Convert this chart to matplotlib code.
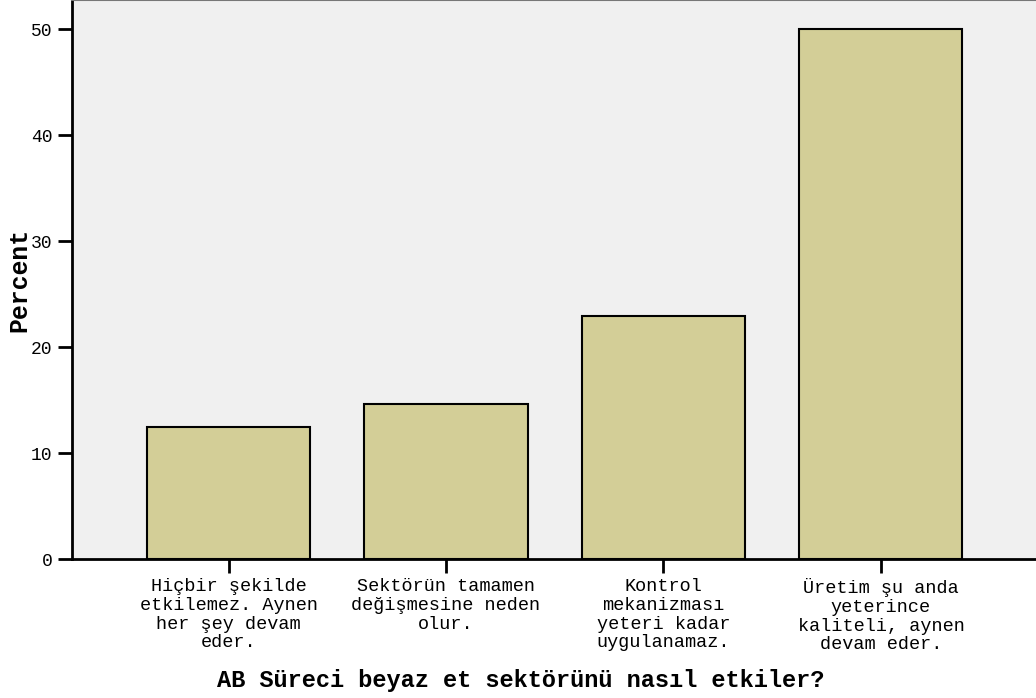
import matplotlib
matplotlib.use("Agg")
import matplotlib.pyplot as plt

categories = [
    "Hiçbir şekilde\netkilemez. Aynen\nher şey devam\neder.",
    "Sektörün tamamen\ndeğişmesine neden\nolur.",
    "Kontrol\nmekanizması\nyeteri kadar\nuygulanamaz.",
    "Üretim şu anda\nyeterince\nkaliteli, aynen\ndevam eder.",
]
percent = [12.50, 14.58, 22.92, 50.00]
yticks = [0, 10, 20, 30, 40, 50]

FONT = "Liberation Mono"

fig = plt.figure(figsize=(10.36, 6.98), dpi=100)
ax = fig.add_axes([72 / 1036, 139 / 698, 964 / 1036, 559 / 698])
ax.set_facecolor("#F0F0F0")

x = list(range(len(categories)))
ax.bar(x, percent, width=0.75, color="#D3CE97", edgecolor="black", linewidth=1.5, zorder=2)

ax.set_xlim(-0.72, 3.713)
ax.set_ylim(0, 52.74)
ax.set_xticks(x)
ax.set_xticklabels(categories, fontfamily=FONT, fontsize=13.3, linespacing=1.12)
ax.set_yticks(yticks)
ax.set_yticklabels([str(v) for v in yticks], fontfamily=FONT, fontsize=13)

ax.tick_params(axis="both", direction="out", length=10, width=2, color="black")
ax.tick_params(axis="x", pad=4)
ax.tick_params(axis="y", pad=4)

for side in ("left", "bottom"):
    ax.spines[side].set_linewidth(2)
    ax.spines[side].set_color("black")
ax.spines["top"].set_color("#777777")
ax.spines["top"].set_linewidth(1.5)
ax.spines["right"].set_visible(False)

ax.set_ylabel("Percent", fontfamily=FONT, fontsize=17.8, fontweight="bold")
ax.yaxis.set_label_coords(-0.0425, 0.5)
ax.set_xlabel("AB Süreci beyaz et sektörünü nasıl etkiler?", fontfamily=FONT,
              fontsize=17, fontweight="bold")
ax.xaxis.set_label_coords(0.465, -0.196)

fig.savefig("out.png", dpi=100, facecolor="white")
